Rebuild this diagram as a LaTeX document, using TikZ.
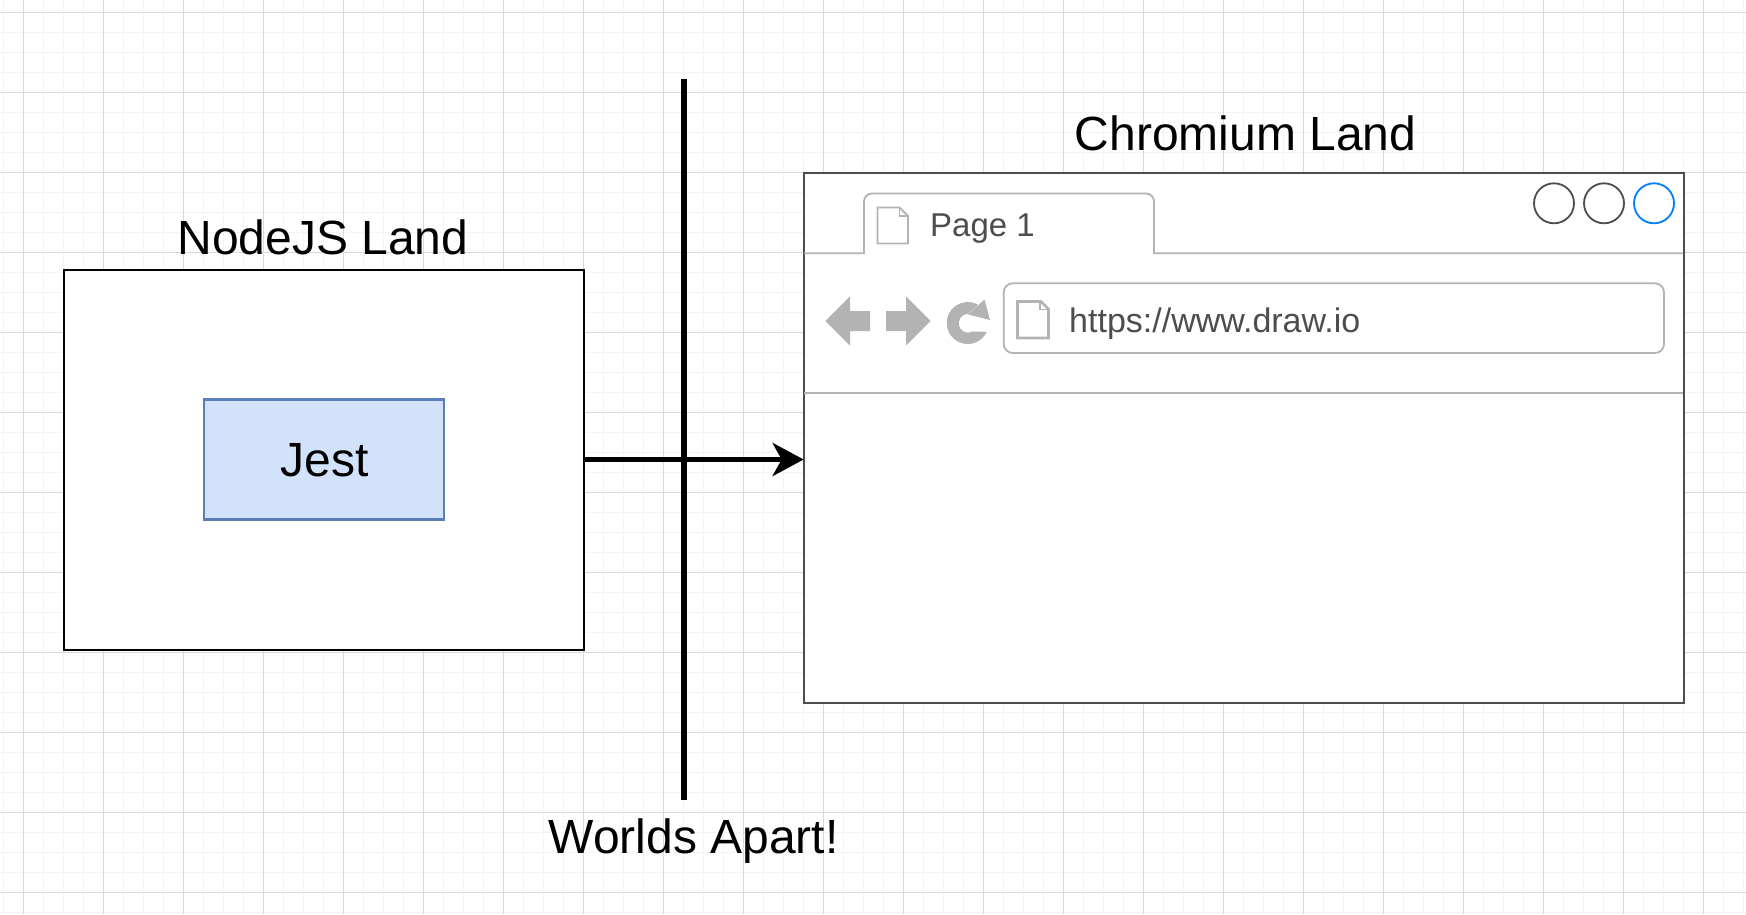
\documentclass[tikz,border=0pt]{standalone}
\usepackage{fontspec}
\setmainfont{Liberation Sans}
\usetikzlibrary{arrows.meta}
\definecolor{gridmajor}{HTML}{D9D9D9}
\definecolor{gridminor}{HTML}{F4F4F4}
\definecolor{wire}{HTML}{4D4D4D}
\definecolor{mock}{HTML}{B3B3B3}
\definecolor{mocktext}{HTML}{4D4D4D}
\definecolor{jestfill}{HTML}{D2E2FB}
\definecolor{jestline}{HTML}{5A7DBB}
\definecolor{bluebtn}{HTML}{007FFF}
\tikzset{
  box/.style={draw=black,line width=2pt,fill=white,minimum width=520pt,minimum height=380pt,inner sep=0pt},
  jestbox/.style={draw=jestline,line width=2.2pt,fill=jestfill,minimum width=240pt,minimum height=120pt,inner sep=0pt,font=\fontsize{48}{52}\selectfont},
  browser/.style={draw=wire,line width=2.2pt,fill=white,minimum width=880pt,minimum height=530pt,inner sep=0pt},
  title/.style={font=\fontsize{48}{52}\selectfont,inner sep=0pt},
  mocktxt/.style={text=mocktext,inner sep=0pt,anchor=base west},
  mockline/.style={draw=mock,line width=1.8pt},
  winbtn/.style={circle,draw=wire,line width=1.8pt,fill=white,minimum size=40pt,inner sep=0pt},
  heavy/.style={line width=5.5pt,draw=black}
}
\begin{document}
\begin{tikzpicture}[x=1pt,y=-1pt]
\useasboundingbox (0,0) rectangle (1746,914);
\fill[white] (0,0) rectangle (1746,914);
% minor grid
\foreach \i in {0,...,87} {\draw[gridminor,line width=1.5pt] ({3.5+20*\i},0) -- ({3.5+20*\i},914);}
\foreach \i in {0,...,45} {\draw[gridminor,line width=1.5pt] (0,{12.5+20*\i}) -- (1746,{12.5+20*\i});}
% major grid
\foreach \i in {0,...,21} {\draw[gridmajor,line width=1pt] ({23.5+80*\i},0) -- ({23.5+80*\i},914);}
\foreach \i in {0,...,11} {\draw[gridmajor,line width=1pt] (0,{12.5+80*\i}) -- (1746,{12.5+80*\i});}
% NodeJS land
\node[box] (node) at (324,459.5) {};
\node[jestbox] (jest) at (324,459.5) {};
\node[title,anchor=base] (jestlabel) at (324.5,476) {Jest};
\node[title] (nodetitle) at (323,237) {NodeJS Land};
% Browser
\node[browser] (win) at (1243.75,438.3) {};
\node[title] (chromtitle) at (1245.5,133) {Chromium Land};
\draw[mockline] (804,253.3) -- (864,253.3) -- (864,201.5) arc[start angle=180,end angle=270,radius=8] -- (1146,193.5) arc[start angle=270,end angle=360,radius=8] -- (1154,253.3) -- (1683,253.3);
\draw[mockline] (804,393) -- (1683,393);
% page icon in tab
\draw[mockline,line join=miter] (877.5,207.5) -- (899.5,207.5) -- (908,216) -- (908,243.5) -- (877.5,243.5) -- cycle;
\draw[mockline,line width=1.2pt] (899.5,207.5) -- (899.5,216) -- (908,216);
\node[mocktxt,font=\fontsize{33}{36}\selectfont] (pagelabel) at (930,236.5) {Page 1};
\node[winbtn] (b1) at (1554,203.3) {};
\node[winbtn] (b2) at (1604,203.3) {};
\node[winbtn,draw=bluebtn] (b3) at (1654,203.3) {};
% nav icons
\fill[mock] (825.3,321) -- (850,296.3) -- (850,311) -- (870,311) -- (870,331) -- (850,331) -- (850,345.7) -- cycle;
\fill[mock] (930.7,321) -- (906,296.3) -- (906,311) -- (886,311) -- (886,331) -- (906,331) -- (906,345.7) -- cycle;
% reload
\fill[mock] (967.7,323) ++(25:21) arc[start angle=25,end angle=300,radius=21] -- (968.3,314) -- (973,315) arc[start angle=-60,end angle=-300,radius=9.5] -- cycle;
\fill[mock] (968.3,314.5) -- (984.5,299.5) -- (990,320) -- cycle;
% URL bar
\draw[mockline,rounded corners=9pt] (1003.7,283.3) rectangle (1664,353);
\draw[mock,line width=2.6pt] (1017.5,301.5) -- (1041,301.5) -- (1048.5,309) -- (1048.5,338) -- (1017.5,338) -- cycle;
\draw[mock,line width=1.2pt] (1040,301.5) -- (1040,309.5) -- (1048.5,309.5);
\node[mocktxt,font=\fontsize{34}{36}\selectfont] (urllabel) at (1069,332) {https://www.draw.io};
% connectors
\coordinate (divtop) at (684,79);
\coordinate (divbot) at (684,799.5);
\draw[heavy] (divtop) -- (divbot);
\draw[heavy,-{Stealth[length=31pt,width=33pt,inset=9pt]},shorten >=-1pt] (node.east) -- (node.east -| win.west);
\node[title] (apart) at (693.5,841) {Worlds Apart!};
\end{tikzpicture}
\end{document}
